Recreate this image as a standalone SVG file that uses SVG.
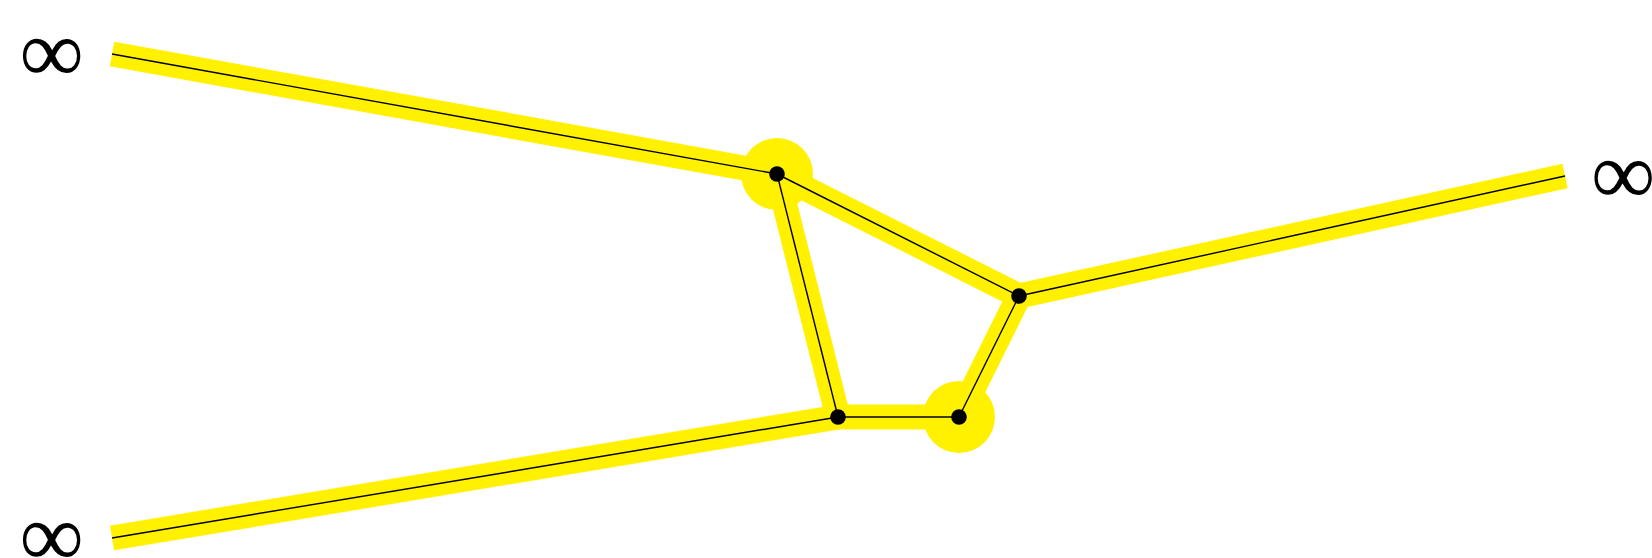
<svg xmlns="http://www.w3.org/2000/svg" width="1652" height="558" viewBox="0 0 1652 558">
<style>
.band{fill:none;stroke:#fff100;stroke-width:25;stroke-linejoin:miter;stroke-linecap:butt}
.edge{fill:none;stroke:#000;stroke-width:1.4}
.blob{fill:#fff100}
.dot{fill:#000}
.inf{font-family:"Liberation Serif",serif;font-size:90px;fill:#000;text-anchor:middle}
</style>
<rect width="1652" height="558" fill="#fff"/>
<g id="highlight">
<circle class="blob" cx="777" cy="174" r="36"/>
<circle class="blob" cx="959" cy="417" r="36"/>
<path class="band" d="M112,54 L777,174 L1019,296 L1565,176"/>
<path class="band" d="M777,174 L838,417 L959,417 L1019,296"/>
<path class="band" d="M112,538 L838,417"/>
</g>
<g id="connectors">
<line class="edge" x1="112" y1="54" x2="777" y2="174"/>
<line class="edge" x1="777" y1="174" x2="1019" y2="296"/>
<line class="edge" x1="1019" y1="296" x2="1565" y2="176"/>
<line class="edge" x1="777" y1="174" x2="838" y2="417"/>
<line class="edge" x1="838" y1="417" x2="959" y2="417"/>
<line class="edge" x1="959" y1="417" x2="1019" y2="296"/>
<line class="edge" x1="112" y1="538" x2="838" y2="417"/>
</g>
<g id="n1"><circle class="dot" cx="777" cy="174" r="7.8"/></g>
<g id="n2"><circle class="dot" cx="1019" cy="296" r="7.8"/></g>
<g id="n3"><circle class="dot" cx="838" cy="417" r="7.8"/></g>
<g id="n4"><circle class="dot" cx="959" cy="417" r="7.8"/></g>
<g id="inf1"><text class="inf" x="51.5" y="82">∞</text></g>
<g id="inf2"><text class="inf" x="1623" y="204">∞</text></g>
<g id="inf3"><text class="inf" x="51.5" y="566">∞</text></g>
</svg>
